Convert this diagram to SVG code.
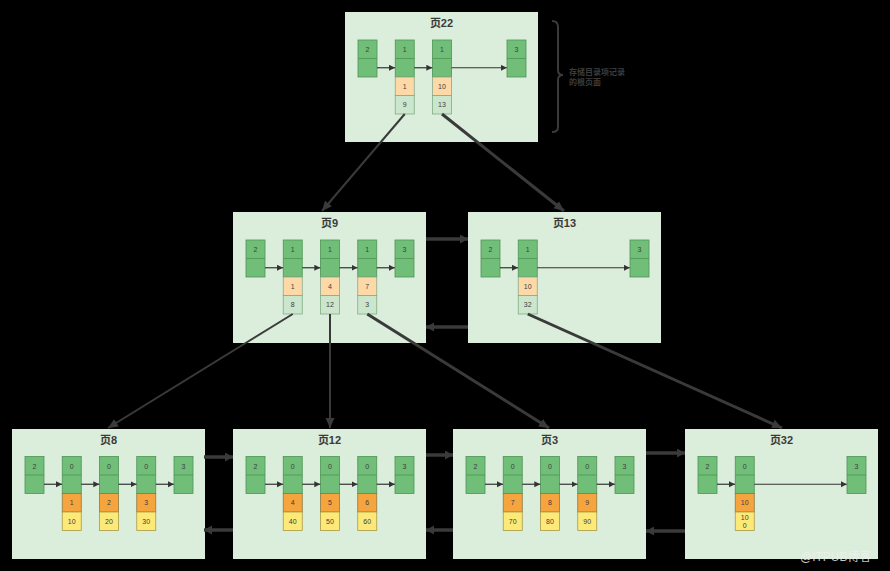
<svg xmlns="http://www.w3.org/2000/svg" xmlns:xlink="http://www.w3.org/1999/xlink" width="890" height="571" viewBox="0 0 890 571">
<style>
.bg{fill:#000}
.box{fill:#dbeddb}
.ttl{font-family:"Liberation Sans","Noto Sans CJK SC",sans-serif;font-size:11px;font-weight:bold;fill:#3a3a3a;text-anchor:middle}
.g{fill:#70be78;stroke:#4f9357;stroke-width:0.8}
.o{fill:#fdd9a8;stroke:#8aa88a;stroke-width:0.8}
.l{fill:#cbe6cd;stroke:#7fae84;stroke-width:0.8}
.O{fill:#f6a53e;stroke:#8a7a40;stroke-width:0.8}
.y{fill:#fde978;stroke:#a89a48;stroke-width:0.8}
.dv{stroke:#4f9357;stroke-width:0.8}
.t{font-family:"Liberation Sans",sans-serif;font-size:7px;fill:#3d3d3d;text-anchor:middle}
.ia{stroke:#333;stroke-width:1.2;fill:none;marker-end:url(#sa)}
.c2{stroke:#3a3a3a;stroke-width:2;fill:none;marker-end:url(#ba)}
.c3{stroke:#3a3a3a;stroke-width:3;fill:none;marker-end:url(#ba)}
.h{stroke:#3a3a3a;stroke-width:3.5;fill:none;marker-end:url(#ha)}
.note{font-family:"Liberation Sans","Noto Sans CJK SC",sans-serif;font-size:8px;font-weight:bold;fill:#3c3c3c}
</style>
<defs>
<marker id="sa" markerUnits="userSpaceOnUse" markerWidth="7" markerHeight="7" refX="6" refY="3" orient="auto"><path d="M0,0 L6,3 L0,6 Z" fill="#333"/></marker>
<marker id="ba" markerUnits="userSpaceOnUse" markerWidth="12" markerHeight="10" refX="10" refY="4.5" orient="auto"><path d="M0,0 L10,4.5 L0,9 Z" fill="#3a3a3a"/></marker>
<marker id="ha" markerUnits="userSpaceOnUse" markerWidth="10" markerHeight="10" refX="8" refY="4.5" orient="auto"><path d="M0,0 L8,4.5 L0,9 Z" fill="#3a3a3a"/></marker>
<g id="gc"><rect class="g" x="0" y="0" width="19" height="37"/><line class="dv" x1="0" y1="18.5" x2="19" y2="18.5"/></g>
</defs>
<rect class="bg" x="0" y="0" width="890" height="571"/>

<g id="page22" transform="translate(345,12)">
<rect class="box" x="0" y="0" width="193" height="130"/>
<text class="ttl" x="96.5" y="15">页22</text>
<use xlink:href="#gc" x="13" y="28"/><text class="t" x="22.5" y="40">2</text>
<use xlink:href="#gc" x="50.25" y="28"/><text class="t" x="59.75" y="40">1</text>
<rect class="o" x="50.25" y="65" width="19" height="18.5"/><text class="t" x="59.75" y="76.5">1</text>
<rect class="l" x="50.25" y="83.5" width="19" height="18.5"/><text class="t" x="59.75" y="95">9</text>
<use xlink:href="#gc" x="87.5" y="28"/><text class="t" x="97" y="40">1</text>
<rect class="o" x="87.5" y="65" width="19" height="18.5"/><text class="t" x="97" y="76.5">10</text>
<rect class="l" x="87.5" y="83.5" width="19" height="18.5"/><text class="t" x="97" y="95">13</text>
<use xlink:href="#gc" x="162" y="28"/><text class="t" x="171.5" y="40">3</text>
<path class="ia" d="M32,55.75 H50"/><path class="ia" d="M69.25,55.75 H87.3"/><path class="ia" d="M106.5,55.75 H161.8"/>
</g>

<g id="page9" transform="translate(233,212)">
<rect class="box" x="0" y="0" width="193" height="131"/>
<text class="ttl" x="96.5" y="15">页9</text>
<use xlink:href="#gc" x="13" y="28"/><text class="t" x="22.5" y="40">2</text>
<use xlink:href="#gc" x="50.25" y="28"/><text class="t" x="59.75" y="40">1</text>
<rect class="o" x="50.25" y="65" width="19" height="18.5"/><text class="t" x="59.75" y="76.5">1</text>
<rect class="l" x="50.25" y="83.5" width="19" height="18.5"/><text class="t" x="59.75" y="95">8</text>
<use xlink:href="#gc" x="87.5" y="28"/><text class="t" x="97" y="40">1</text>
<rect class="o" x="87.5" y="65" width="19" height="18.5"/><text class="t" x="97" y="76.5">4</text>
<rect class="l" x="87.5" y="83.5" width="19" height="18.5"/><text class="t" x="97" y="95">12</text>
<use xlink:href="#gc" x="124.75" y="28"/><text class="t" x="134.25" y="40">1</text>
<rect class="o" x="124.75" y="65" width="19" height="18.5"/><text class="t" x="134.25" y="76.5">7</text>
<rect class="l" x="124.75" y="83.5" width="19" height="18.5"/><text class="t" x="134.25" y="95">3</text>
<use xlink:href="#gc" x="162" y="28"/><text class="t" x="171.5" y="40">3</text>
<path class="ia" d="M32,55.75 H50"/><path class="ia" d="M69.25,55.75 H87.3"/><path class="ia" d="M106.5,55.75 H124.5"/><path class="ia" d="M143.75,55.75 H161.8"/>
</g>

<g id="page13" transform="translate(468,212)">
<rect class="box" x="0" y="0" width="193" height="131"/>
<text class="ttl" x="96.5" y="15">页13</text>
<use xlink:href="#gc" x="13" y="28"/><text class="t" x="22.5" y="40">2</text>
<use xlink:href="#gc" x="50.25" y="28"/><text class="t" x="59.75" y="40">1</text>
<rect class="o" x="50.25" y="65" width="19" height="18.5"/><text class="t" x="59.75" y="76.5">10</text>
<rect class="l" x="50.25" y="83.5" width="19" height="18.5"/><text class="t" x="59.75" y="95">32</text>
<use xlink:href="#gc" x="162" y="28"/><text class="t" x="171.5" y="40">3</text>
<path class="ia" d="M32,55.75 H50"/><path class="ia" d="M69.25,55.75 H161.8"/>
</g>

<g id="page8" transform="translate(12,429)">
<rect class="box" x="0" y="0" width="193" height="130"/>
<text class="ttl" x="96.5" y="15">页8</text>
<use xlink:href="#gc" x="13" y="27.5"/><text class="t" x="22.5" y="39.5">2</text>
<use xlink:href="#gc" x="50.25" y="27.5"/><text class="t" x="59.75" y="39.5">0</text>
<rect class="O" x="50.25" y="64.5" width="19" height="18.5"/><text class="t" x="59.75" y="76">1</text>
<rect class="y" x="50.25" y="83" width="19" height="18.5"/><text class="t" x="59.75" y="94.5">10</text>
<use xlink:href="#gc" x="87.5" y="27.5"/><text class="t" x="97" y="39.5">0</text>
<rect class="O" x="87.5" y="64.5" width="19" height="18.5"/><text class="t" x="97" y="76">2</text>
<rect class="y" x="87.5" y="83" width="19" height="18.5"/><text class="t" x="97" y="94.5">20</text>
<use xlink:href="#gc" x="124.75" y="27.5"/><text class="t" x="134.25" y="39.5">0</text>
<rect class="O" x="124.75" y="64.5" width="19" height="18.5"/><text class="t" x="134.25" y="76">3</text>
<rect class="y" x="124.75" y="83" width="19" height="18.5"/><text class="t" x="134.25" y="94.5">30</text>
<use xlink:href="#gc" x="162" y="27.5"/><text class="t" x="171.5" y="39.5">3</text>
<path class="ia" d="M32,55.25 H50"/><path class="ia" d="M69.25,55.25 H87.3"/><path class="ia" d="M106.5,55.25 H124.5"/><path class="ia" d="M143.75,55.25 H161.8"/>
</g>

<g id="page12" transform="translate(233,429)">
<rect class="box" x="0" y="0" width="193" height="130"/>
<text class="ttl" x="96.5" y="15">页12</text>
<use xlink:href="#gc" x="13" y="27.5"/><text class="t" x="22.5" y="39.5">2</text>
<use xlink:href="#gc" x="50.25" y="27.5"/><text class="t" x="59.75" y="39.5">0</text>
<rect class="O" x="50.25" y="64.5" width="19" height="18.5"/><text class="t" x="59.75" y="76">4</text>
<rect class="y" x="50.25" y="83" width="19" height="18.5"/><text class="t" x="59.75" y="94.5">40</text>
<use xlink:href="#gc" x="87.5" y="27.5"/><text class="t" x="97" y="39.5">0</text>
<rect class="O" x="87.5" y="64.5" width="19" height="18.5"/><text class="t" x="97" y="76">5</text>
<rect class="y" x="87.5" y="83" width="19" height="18.5"/><text class="t" x="97" y="94.5">50</text>
<use xlink:href="#gc" x="124.75" y="27.5"/><text class="t" x="134.25" y="39.5">0</text>
<rect class="O" x="124.75" y="64.5" width="19" height="18.5"/><text class="t" x="134.25" y="76">6</text>
<rect class="y" x="124.75" y="83" width="19" height="18.5"/><text class="t" x="134.25" y="94.5">60</text>
<use xlink:href="#gc" x="162" y="27.5"/><text class="t" x="171.5" y="39.5">3</text>
<path class="ia" d="M32,55.25 H50"/><path class="ia" d="M69.25,55.25 H87.3"/><path class="ia" d="M106.5,55.25 H124.5"/><path class="ia" d="M143.75,55.25 H161.8"/>
</g>

<g id="page3" transform="translate(453,429)">
<rect class="box" x="0" y="0" width="193" height="130"/>
<text class="ttl" x="96.5" y="15">页3</text>
<use xlink:href="#gc" x="13" y="27.5"/><text class="t" x="22.5" y="39.5">2</text>
<use xlink:href="#gc" x="50.25" y="27.5"/><text class="t" x="59.75" y="39.5">0</text>
<rect class="O" x="50.25" y="64.5" width="19" height="18.5"/><text class="t" x="59.75" y="76">7</text>
<rect class="y" x="50.25" y="83" width="19" height="18.5"/><text class="t" x="59.75" y="94.5">70</text>
<use xlink:href="#gc" x="87.5" y="27.5"/><text class="t" x="97" y="39.5">0</text>
<rect class="O" x="87.5" y="64.5" width="19" height="18.5"/><text class="t" x="97" y="76">8</text>
<rect class="y" x="87.5" y="83" width="19" height="18.5"/><text class="t" x="97" y="94.5">80</text>
<use xlink:href="#gc" x="124.75" y="27.5"/><text class="t" x="134.25" y="39.5">0</text>
<rect class="O" x="124.75" y="64.5" width="19" height="18.5"/><text class="t" x="134.25" y="76">9</text>
<rect class="y" x="124.75" y="83" width="19" height="18.5"/><text class="t" x="134.25" y="94.5">90</text>
<use xlink:href="#gc" x="162" y="27.5"/><text class="t" x="171.5" y="39.5">3</text>
<path class="ia" d="M32,55.25 H50"/><path class="ia" d="M69.25,55.25 H87.3"/><path class="ia" d="M106.5,55.25 H124.5"/><path class="ia" d="M143.75,55.25 H161.8"/>
</g>

<g id="page32" transform="translate(685,429)">
<rect class="box" x="0" y="0" width="193" height="130"/>
<text class="ttl" x="96.5" y="15">页32</text>
<use xlink:href="#gc" x="13" y="27.5"/><text class="t" x="22.5" y="39.5">2</text>
<use xlink:href="#gc" x="50.25" y="27.5"/><text class="t" x="59.75" y="39.5">0</text>
<rect class="O" x="50.25" y="64.5" width="19" height="18.5"/><text class="t" x="59.75" y="76">10</text>
<rect class="y" x="50.25" y="83" width="19" height="18.5"/><text class="t" x="59.75" y="91">10</text><text class="t" x="59.75" y="99">0</text>
<use xlink:href="#gc" x="162" y="27.5"/><text class="t" x="171.5" y="39.5">3</text>
<path class="ia" d="M32,55.25 H50"/><path class="ia" d="M69.25,55.25 H161.8"/>
</g>

<g id="brace">
<path d="M552,21 Q558,21 558,27 L558,70 Q558,75 563,75 Q558,75 558,80 L558,127 Q558,132 552,132" stroke="#3a3a3a" stroke-width="2" fill="none"/>
<text class="note" x="569" y="75">存储目录项记录</text>
<text class="note" x="569" y="85">的根页面</text>
</g>

<g id="connectors">
<path class="c2" d="M404.75,114 L322,211"/>
<path class="c3" d="M442,114 L564,211"/>
<path class="c2" d="M292.75,314 L108,428"/>
<path class="c2" d="M330,314 L330,428"/>
<path class="c3" d="M367.25,314 L549,428"/>
<path class="c3" d="M527.75,314 L782,428"/>
<path class="h" d="M426,239 H468"/>
<path class="h" d="M468,327 H426"/>
<path class="h" d="M204,457 H233"/>
<path class="h" d="M233,530 H204"/>
<path class="h" d="M426,455 H453"/>
<path class="h" d="M453,530 H426"/>
<path class="h" d="M646,453 H685"/>
<path class="h" d="M685,531 H646"/>
</g>

<text x="800" y="561" font-family="Liberation Sans,Noto Sans CJK SC,sans-serif" font-size="12" fill="#f0f0f0" fill-opacity="0.85">@ITPUB博客</text>
</svg>
